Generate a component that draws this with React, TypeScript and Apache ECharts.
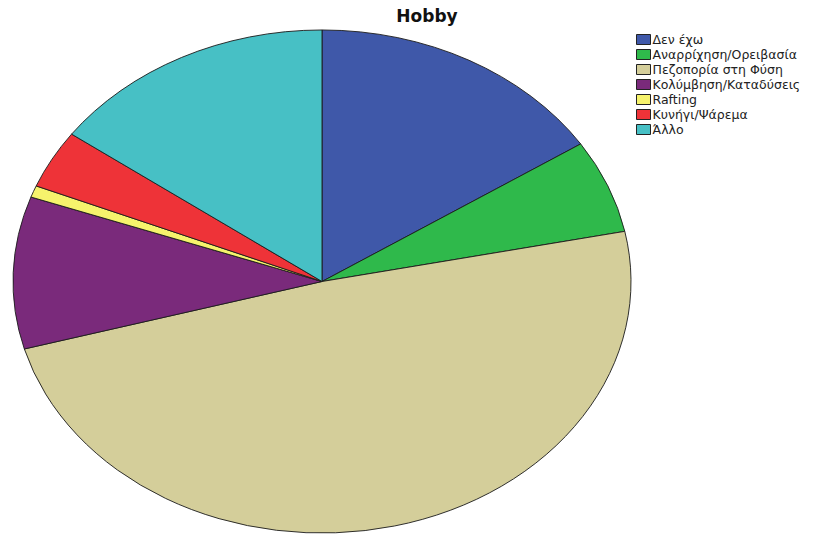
import React, { useEffect, useRef } from "react";
import * as echarts from "echarts";

const categories = [
  "Δεν έχω",
  "Αναρρίχηση/Ορειβασία",
  "Πεζοπορία στη Φύση",
  "Κολύμβηση/Καταδύσεις",
  "Rafting",
  "Κυνήγι/Ψάρεμα",
  "Άλλο",
];
const counts = [21, 8, 65, 13, 1, 5, 20];
const colors = ["#3f58a9", "#2fb94b", "#d4ce9a", "#7a2a7b", "#f6f36c", "#ee3338", "#47c0c5"];

const CX = 322;
const CY = 281.5;
const RX = 309;
const RY = 251.5;

export default function App() {
  const ref = useRef<HTMLDivElement>(null);
  useEffect(() => {
    if (!ref.current) return;
    const chart = echarts.init(ref.current, undefined, { renderer: "svg" });
    const total = counts.reduce((a, b) => a + b, 0);
    const series = categories.map((name, i) => {
      const before = counts.slice(0, i).reduce((a, b) => a + b, 0);
      return {
        type: "custom",
        name,
        coordinateSystem: "none",
        itemStyle: { color: colors[i] },
        data: [[counts[i]]],
        renderItem: (params: any, api: any) => {
          const v = api.value(0);
          const start = -Math.PI / 2 + (2 * Math.PI * before) / total;
          const end = -Math.PI / 2 + (2 * Math.PI * (before + v)) / total;
          return {
            type: "sector",
            x: CX,
            y: CY,
            scaleX: 1,
            scaleY: RY / RX,
            shape: { cx: 0, cy: 0, r: RX, r0: 0, startAngle: start, endAngle: end, clockwise: true },
            style: { fill: colors[i], stroke: "#1c1c1c", lineWidth: 1, strokeNoScale: true },
          };
        },
      };
    });
    chart.setOption({
      animation: false,
      backgroundColor: "#ffffff",
      title: {
        text: "Hobby",
        left: 422,
        top: 2,
        textAlign: "center",
        textStyle: { fontFamily: "DejaVu Sans", fontWeight: "bold", fontSize: 17, color: "#111" },
      },
      legend: {
        orient: "vertical",
        left: 636,
        top: 33,
        padding: 0,
        icon: "rect",
        itemWidth: 14,
        itemHeight: 10,
        itemGap: 2,
        selectedMode: false,
        itemStyle: { borderColor: "#222", borderWidth: 1 },
        textStyle: { fontFamily: "DejaVu Sans", fontSize: 12.5, color: "#222", padding: [0, 0, 0, -3], lineHeight: 12.7 },
        data: categories,
      },
      series,
    } as any);
    return () => chart.dispose();
  }, []);
  return <div ref={ref} style={{ position: "fixed", left: 0, top: 0, width: 815, height: 535 }} />;
}
